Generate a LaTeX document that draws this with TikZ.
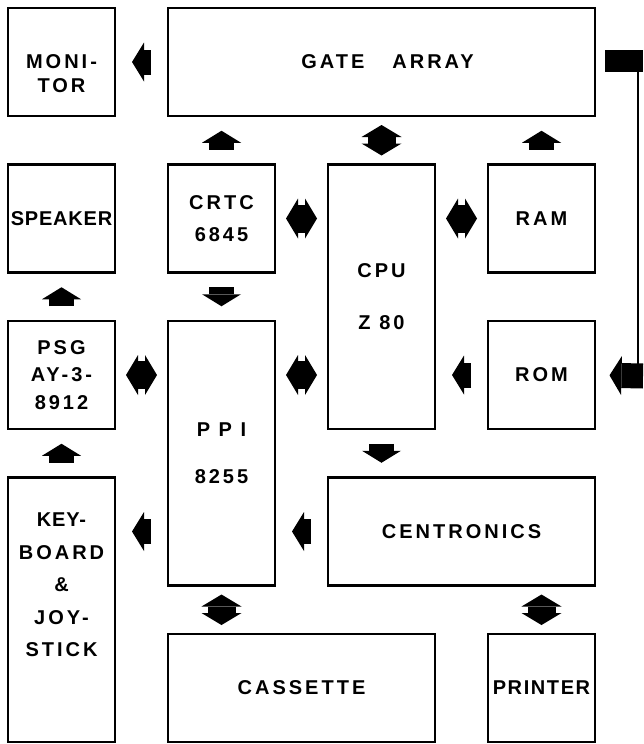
\documentclass[tikz,border=0pt]{standalone}
\usepackage{fontspec}
\newfontfamily\lblfont{Liberation Sans}[LetterSpace=15]
\usetikzlibrary{arrows.meta,positioning}

\begin{document}
\begin{tikzpicture}[
    x=1pt, y=-1pt,
    block/.style={rectangle, draw=black, line width=2.8pt, outer sep=0pt, inner sep=0pt,
      minimum width=107pt, minimum height=108pt, align=center,
      font=\lblfont\bfseries\fontsize{20}{24}\selectfont},
    blk/.style={line width=25pt, -{Triangle[width=39pt,length=12pt,line width=0pt]},
      shorten <=#1, shorten >=#1},
    blk/.default=17pt,
    dblk/.style={line width=28pt,
      {Triangle[width=40pt,length=12pt,line width=0pt]}-{Triangle[width=40pt,length=12pt,line width=0pt]},
      shorten <=#1, shorten >=#1},
    dblk/.default=11pt,
    node distance=48.5pt and 53pt
    ]
    \useasboundingbox (0,0) rectangle (643,744);
    \node[block, anchor=north west] (Monitor) at (8,8) {\mbox{}\\[14pt]MONI-\\TOR};
    \node[block, right=53pt of Monitor, minimum width=427pt] (Gate) {\hspace{12pt}GATE\hspace{28pt}ARRAY};
    \node[block, below=48.5pt of Monitor] (Speaker) {\addfontfeature{LetterSpace=4}SPEAKER};
    \node[block, right=53pt of Speaker] (Crtc) {CRTC\\[8pt]6845};
    \node[block, below=48.5pt of Gate, minimum height=264.5pt] (Cpu) {CPU\\[28pt]Z 80};
    \node[block, right=53pt of Cpu.north east, anchor=north west] (Ram) {RAM};
    \node[block, below=48.5pt of Speaker] (Psg) {PSG\\[3.5pt]AY-3-\\[3.5pt]8912};
    \node[block, below=48.5pt of Crtc, minimum height=264.5pt] (Ppi) {P P I\\[23pt]8255};
    \node[block, below=48.5pt of Ram] (Rom) {ROM};
    \node[block, below=48.5pt of Psg, minimum height=264.5pt] (Keyboard) {
      \addfontfeature{LetterSpace=4}KEY-\\[8.5pt]BOARD\\[8.5pt]\&\\[8.5pt]JOY-\\[8.5pt]STICK\\[26pt]\mbox{}
    };
    \node[block, below=48.5pt of Cpu.south west, anchor=north west, minimum width=267pt] (Centronics) {CENTRONICS};
    \node[block, below=48.5pt of Ppi.south west, anchor=north west, minimum width=267pt] (Cassette) {CASSETTE};
    \node[block, below=48.5pt of Centronics.south east, anchor=north east] (Printer) {\addfontfeature{LetterSpace=8}PRINTER};
    % block arrows in the gaps
    \draw[blk] (Gate.west) -- (Monitor.east);
    \draw[blk=14.75pt] (Crtc.north) -- (Crtc.north |- Gate.south);
    \draw[dblk=9pt] (Cpu.north) -- (Gate.south);
    \draw[blk=14.75pt] (Ram.north) -- (Ram.north |- Gate.south);
    \draw[dblk] (Crtc.east) -- (Cpu.west |- Crtc.east);
    \draw[dblk] (Ram.west) -- (Cpu.east |- Ram.west);
    \draw[blk=14.75pt] (Psg.north) -- (Speaker.south);
    \draw[blk=14.75pt] (Crtc.south) -- (Ppi.north);
    \draw[dblk] (Psg.east) -- (Ppi.west |- Psg.east);
    \draw[dblk] (Ppi.east |- Rom.west) -- (Cpu.west |- Rom.west);
    \draw[blk] (Rom.west) -- (Cpu.east |- Rom.west);
    \draw[blk=14.75pt] (Keyboard.north) -- (Psg.south);
    \draw[blk=14.75pt] (Cpu.south) -- (Cpu.south |- Centronics.north);
    \draw[blk] (Ppi.west |- Centronics.west) -- (Keyboard.east |- Centronics.west);
    \draw[blk] (Centronics.west) -- (Ppi.east |- Centronics.west);
    \draw[dblk=9pt] (Ppi.south) -- (Ppi.south |- Cassette.north);
    \draw[dblk=9pt] (Printer.north) -- (Centronics.south -| Printer.north);
    % gate array to rom, round the right side
    \coordinate (GateOut) at (643,61);
    \coordinate (RomIn) at (643,376);
    \draw[line width=22pt, shorten <=10pt] (Gate.east |- GateOut) -- (GateOut);
    \draw[line width=2.8pt] ([xshift=-5pt]GateOut) -- ([xshift=-5pt]RomIn);
    \draw[blk=0pt, shorten >=14.5pt] (RomIn) -- (Rom.east);
  \end{tikzpicture}
\end{document}
